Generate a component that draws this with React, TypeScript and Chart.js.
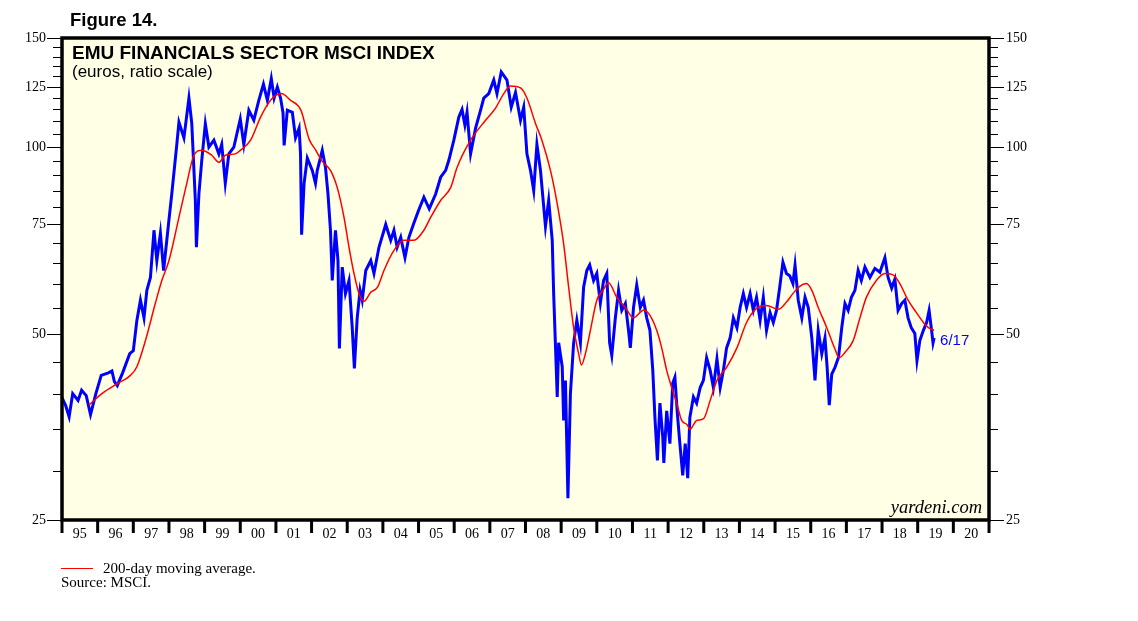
import React, { useEffect, useRef } from 'react';
import { Chart, registerables } from 'chart.js';

Chart.register(...registerables);

const SANS = '"Liberation Sans", Arial, sans-serif';
const SERIF = '"Liberation Serif", "Times New Roman", serif';
const BG = '#FFFFE6';
const BLUE = '#0000FF';
const RED = '#FF0000';

const figureTitle = 'Figure 14.';
const chartTitle = 'EMU FINANCIALS SECTOR MSCI INDEX';
const chartSubtitle = '(euros, ratio scale)';
const lastLabel = '6/17';
const legendText = '200-day moving average.';
const sourceText = 'Source: MSCI.';
const watermark = 'yardeni.com';

const xStart = 1995;
const xEnd = 2021;
const yearLabels = ['95','96','97','98','99','00','01','02','03','04','05','06','07','08','09','10','11','12','13','14','15','16','17','18','19','20'];
const yTickValues = [25, 30, 35, 40, 45, 50, 55, 60, 65, 70, 75, 80, 85, 90, 95, 100, 105, 110, 115, 120, 125, 130, 135, 140, 145, 150];
const yLabelValues = [25, 50, 75, 100, 125, 150];

// EMU Financials MSCI index (decimal year, value)
const indexDates = [
  1995.0, 1995.1, 1995.2, 1995.3, 1995.45, 1995.55, 1995.68, 1995.8, 1995.95, 1996.1, 1996.3, 1996.4, 1996.47, 1996.55, 1996.7, 1996.9,
  1997.0, 1997.1, 1997.2, 1997.3, 1997.38, 1997.48, 1997.58, 1997.66, 1997.76, 1997.85, 1997.99,
  1998.08, 1998.22, 1998.28, 1998.42, 1998.56, 1998.64, 1998.74, 1998.77, 1998.84, 1998.92,
  1999.02, 1999.12, 1999.26, 1999.4, 1999.48, 1999.58, 1999.68, 1999.82,
  2000.0, 2000.1, 2000.24, 2000.38, 2000.52, 2000.65, 2000.76, 2000.87, 2000.95,
  2001.04, 2001.13, 2001.2, 2001.23, 2001.32, 2001.46, 2001.55, 2001.65, 2001.69, 2001.72, 2001.79, 2001.88,
  2002.02, 2002.11, 2002.16, 2002.3, 2002.39, 2002.46, 2002.53, 2002.58, 2002.67, 2002.74, 2002.78, 2002.86, 2002.95,
  2003.05, 2003.14, 2003.2, 2003.28, 2003.36, 2003.42, 2003.52, 2003.66, 2003.75, 2003.89,
  2004.08, 2004.22, 2004.31, 2004.4, 2004.5, 2004.62, 2004.73, 2004.87,
  2005.0, 2005.15, 2005.3, 2005.48, 2005.62, 2005.76, 2005.85, 2005.99,
  2006.13, 2006.22, 2006.3, 2006.36, 2006.46, 2006.6, 2006.74, 2006.83, 2006.97,
  2007.11, 2007.2, 2007.32, 2007.48, 2007.6, 2007.72, 2007.86, 2007.95,
  2008.04, 2008.14, 2008.23, 2008.32, 2008.42, 2008.56, 2008.65, 2008.75, 2008.79, 2008.89, 2008.93,
  2009.03, 2009.07, 2009.12, 2009.19, 2009.26, 2009.35, 2009.44, 2009.54, 2009.63, 2009.72, 2009.8, 2009.91,
  2010.0, 2010.1, 2010.19, 2010.28, 2010.36, 2010.42, 2010.52, 2010.61, 2010.7, 2010.8, 2010.89, 2010.94,
  2011.03, 2011.12, 2011.22, 2011.31, 2011.4, 2011.49, 2011.57, 2011.63, 2011.7, 2011.77, 2011.85, 2011.88, 2011.96,
  2012.05, 2012.13, 2012.19, 2012.26, 2012.33, 2012.41, 2012.48, 2012.55, 2012.61, 2012.71, 2012.8, 2012.9, 2012.99,
  2013.08, 2013.18, 2013.27, 2013.37, 2013.46, 2013.55, 2013.64, 2013.74, 2013.83, 2013.93,
  2014.02, 2014.11, 2014.2, 2014.3, 2014.39, 2014.48, 2014.58, 2014.67, 2014.76, 2014.86, 2014.95,
  2015.04, 2015.13, 2015.22, 2015.32, 2015.41, 2015.5, 2015.56, 2015.65, 2015.75, 2015.84, 2015.93,
  2016.03, 2016.12, 2016.21, 2016.31, 2016.4, 2016.46, 2016.52, 2016.59, 2016.68, 2016.78, 2016.87, 2016.96,
  2017.05, 2017.14, 2017.24, 2017.33, 2017.42, 2017.52, 2017.66, 2017.8, 2017.94,
  2018.08, 2018.17, 2018.27, 2018.36, 2018.45, 2018.55, 2018.64, 2018.73, 2018.82, 2018.92, 2018.98,
  2019.06, 2019.16, 2019.25, 2019.32, 2019.39, 2019.43, 2019.46,
];
const indexValues = [
  39.4, 38.3, 36.7, 40, 39, 40.5, 39.7, 37, 40, 42.8, 43.2, 43.5, 41.8, 41.2, 43.2, 46.4,
  46.9, 52.5, 56.6, 53, 58.7, 61.6, 73.4, 65.6, 72.6, 63.2, 75.4,
  84.1, 101, 109.7, 103.5, 120, 109.2, 82, 68.9, 84, 95.2,
  109, 100, 102.6, 97.5, 101, 87.4, 97.5, 100,
  111, 101, 114.7, 110.5, 119, 126.4, 119, 129, 120,
  125, 120, 113.5, 100.6, 114.7, 113.8, 103.5, 107.3, 97.5, 72.2, 87.4, 96,
  91.7, 87.4, 91.7, 98.8, 92.7, 84, 73.4, 60.9, 73.4, 65.6, 47.3, 64, 58,
  60.9, 51.1, 43.9, 53, 58.7, 56.6, 63.2, 65.6, 62.5, 68.9,
  75, 70.7, 73.4, 68.9, 71.5, 66.3, 71.5, 75.4,
  79, 83, 79.5, 84, 89.4, 91.7, 95.2, 102.6,
  111.8, 115, 108.5, 113.8, 97.5, 107.3, 114.7, 120, 122,
  128.3, 122, 132.2, 128.3, 116, 122.5, 110.5, 116,
  97.5, 91.7, 85.1, 101, 91.7, 74.5, 82, 70.7, 58, 39.5, 48.3,
  44.2, 36.2, 42, 27.1, 40, 48.3, 52.5, 48.3, 59.4, 63.2, 64.5, 60.9,
  62.5, 56, 60.9, 62.5, 48.3, 46.1, 53, 58.7, 54.5, 55.9, 50.6, 47.4,
  55.1, 59.9, 55.1, 56.6, 53, 50.6, 43.6, 36.6, 31.2, 38.6, 34, 30.9, 37.5,
  33.2, 41.6, 42.5, 37.1, 33.2, 29.5, 33.2, 29.2, 36.6, 39.5, 38.6, 40.9, 42,
  45.7, 43.6, 40.9, 45.5, 40.9, 43.6, 47.4, 49.2, 53, 51.1,
  55.1, 58, 55.1, 58, 54.5, 57.2, 52.5, 57.2, 50.6, 54, 52.1,
  54.5, 59.4, 65.2, 62.5, 62, 60.2, 64.5, 56.6, 53, 57.2, 55.1,
  49.2, 42, 50.6, 46.4, 49.2, 44.1, 38.3, 43, 44.1, 45.8, 51.1, 55.9,
  54.5, 57.2, 58.7, 63.2, 60.9, 64, 61.6, 63.7, 62.8,
  66.3, 61.6, 59.2, 61.2, 54.5, 55.9, 56.6, 53, 51.1, 50, 45.2,
  48.7, 50.6, 52.1, 54.5, 50.6, 48.3, 49.2,
];

// 200-day moving average
const maDates = [
  1995.75, 1996.12, 1996.55, 1996.92, 1997.1, 1997.34, 1997.62, 1997.8, 1998.0, 1998.28, 1998.5, 1998.7, 1998.92,
  1999.2, 1999.4, 1999.58, 1999.86, 2000.0, 2000.29, 2000.57, 2000.85, 2001.15, 2001.41, 2001.7, 2001.93,
  2002.12, 2002.3, 2002.53, 2002.72, 2002.91, 2003.05, 2003.19, 2003.33, 2003.47, 2003.66, 2003.85,
  2004.03, 2004.31, 2004.59, 2004.87, 2005.15, 2005.34, 2005.62, 2005.9, 2006.08, 2006.46, 2006.88,
  2007.16, 2007.39, 2007.58, 2007.86, 2008.04, 2008.28, 2008.46, 2008.7, 2008.89, 2009.07, 2009.21,
  2009.35, 2009.49, 2009.57, 2009.68, 2009.82, 2010.0, 2010.17, 2010.33, 2010.56, 2010.8, 2011.03,
  2011.31, 2011.49, 2011.68, 2011.82, 2011.96, 2012.1, 2012.24, 2012.38, 2012.54, 2012.61, 2012.8, 2012.99,
  2013.18, 2013.37, 2013.64, 2013.93, 2014.2, 2014.48, 2014.76, 2015.09, 2015.32, 2015.5, 2015.69, 2015.88,
  2016.03, 2016.21, 2016.45, 2016.68, 2016.8, 2016.96, 2017.19, 2017.38, 2017.56, 2017.84, 2018.08,
  2018.31, 2018.5, 2018.73, 2018.96, 2019.16, 2019.3, 2019.46,
];
const maValues = [
  38.3, 40, 41.5, 42.8, 44.2, 48.7, 56, 60.9, 65.6, 77, 87.4, 97, 98.8,
  97, 94.5, 97, 97.5, 98.8, 102.6, 111.8, 119, 122, 119, 114.7, 103,
  98.8, 94.8, 91.7, 86, 77, 68.9, 62.5, 58, 56.4, 58.3, 59.4,
  63.2, 68.1, 70.7, 70.7, 73.4, 77, 82, 86, 92.7, 102.6, 110.5,
  115.6, 122, 125.5, 124.6, 120, 109.2, 102.6, 91.7, 81, 69.8, 59.4,
  51.1, 46.4, 44.5, 46.4, 50.6, 56.6, 58.7, 60.4, 57.2, 55.1, 53,
  54.5, 53.5, 50.6, 47.4, 43.6, 40.9, 38.6, 36.2, 35.6, 35, 36.2, 36.4,
  39, 42, 44.1, 47.4, 52.1, 54.9, 55.5, 54.7, 56.2, 58, 59.6, 60.2,
  58.7, 55.1, 51.1, 47.2, 45.7, 46.6, 48.7, 53, 57.2, 60.9, 62.5,
  62.2, 60.2, 56.6, 54.1, 52.1, 51.1, 50.6,
];

const decorPlugin = {
  id: 'decor',
  beforeDatasetsDraw(chart: any) {
    const { ctx, chartArea: a } = chart;
    ctx.save();
    ctx.fillStyle = BG;
    ctx.fillRect(a.left, a.top, a.right - a.left, a.bottom - a.top);
    ctx.restore();
  },
  afterDraw(chart: any) {
    const { ctx, chartArea: a, scales } = chart;
    const ys = scales.y;
    const xs = scales.x;
    ctx.save();

    // frame
    ctx.strokeStyle = '#000';
    ctx.lineWidth = 3.5;
    ctx.strokeRect(a.left, a.top, a.right - a.left, a.bottom - a.top);

    // y ticks both sides
    ctx.lineWidth = 1;
    ctx.font = `14px ${SERIF}`;
    ctx.fillStyle = '#000';
    ctx.textBaseline = 'middle';
    for (const v of yTickValues) {
      const y = Math.round(ys.getPixelForValue(v)) + 0.5;
      const major = yLabelValues.includes(v);
      const len = major ? 13 : 7;
      ctx.beginPath();
      ctx.moveTo(a.left - 2 - len, y);
      ctx.lineTo(a.left, y);
      ctx.moveTo(a.right, y);
      ctx.lineTo(a.right + 2 + len, y);
      ctx.stroke();
      if (major) {
        ctx.textAlign = 'right';
        ctx.fillText(String(v), a.left - 16, y);
        ctx.textAlign = 'left';
        ctx.fillText(String(v), a.right + 17, y);
      }
    }

    // x ticks and year labels
    ctx.lineWidth = 3;
    for (let i = 0; i <= xEnd - xStart; i++) {
      const x = xs.getPixelForValue(xStart + i);
      ctx.beginPath();
      ctx.moveTo(x, a.bottom);
      ctx.lineTo(x, a.bottom + 13);
      ctx.stroke();
    }
    ctx.textAlign = 'center';
    ctx.textBaseline = 'middle';
    yearLabels.forEach((lab, i) => {
      const x = xs.getPixelForValue(xStart + i + 0.5);
      ctx.fillText(lab, x, a.bottom + 14);
    });

    // titles
    ctx.textAlign = 'left';
    ctx.textBaseline = 'alphabetic';
    ctx.font = `bold 18.5px ${SANS}`;
    ctx.fillText(figureTitle, 70, 26);
    ctx.font = `bold 19px ${SANS}`;
    ctx.fillText(chartTitle, 72, 59);
    ctx.font = `17px ${SANS}`;
    ctx.fillText(chartSubtitle, 72, 77);

    // watermark
    ctx.font = `italic 18.5px ${SERIF}`;
    ctx.textAlign = 'right';
    ctx.fillText(watermark, a.right - 7, a.bottom - 7);

    // last value label
    const n = indexDates.length - 1;
    const lx = xs.getPixelForValue(indexDates[n]);
    const ly = ys.getPixelForValue(indexValues[n]);
    ctx.font = `15px ${SANS}`;
    ctx.fillStyle = BLUE;
    ctx.textAlign = 'left';
    ctx.textBaseline = 'middle';
    ctx.fillText(lastLabel, lx + 6, ly + 3);

    // legend / source
    ctx.strokeStyle = RED;
    ctx.lineWidth = 1;
    ctx.beginPath();
    ctx.moveTo(61, 568.5);
    ctx.lineTo(93, 568.5);
    ctx.stroke();
    ctx.fillStyle = '#000';
    ctx.font = `15px ${SERIF}`;
    ctx.textBaseline = 'alphabetic';
    ctx.fillText(legendText, 103, 573);
    ctx.fillText(sourceText, 61, 587);

    ctx.restore();
  },
};

export default function App() {
  const canvasRef = useRef<HTMLCanvasElement | null>(null);

  useEffect(() => {
    const canvas = canvasRef.current;
    if (!canvas) return;
    const chart = new Chart(canvas, {
      type: 'line',
      data: {
        datasets: [
          {
            label: '200-day moving average',
            data: maDates.map((d, i) => ({ x: d, y: maValues[i] })),
            borderColor: RED,
            borderWidth: 1.5,
            pointRadius: 0,
            cubicInterpolationMode: 'monotone',
            fill: false,
          },
          {
            label: 'EMU Financials',
            data: indexDates.map((d, i) => ({ x: d, y: indexValues[i] })),
            borderColor: BLUE,
            borderWidth: 3,
            pointRadius: 0,
            tension: 0,
            fill: false,
          },
        ],
      },
      options: {
        animation: false,
        responsive: false,
        maintainAspectRatio: false,
        devicePixelRatio: 1,
        layout: { padding: { left: 62, right: 149, top: 38, bottom: 101 } },
        plugins: {
          legend: { display: false },
          tooltip: { enabled: false },
          title: { display: false },
        },
        scales: {
          x: { type: 'linear', min: xStart, max: xEnd, display: false },
          y: { type: 'logarithmic', min: 25, max: 150, display: false },
        },
      } as any,
      plugins: [decorPlugin],
    });
    return () => chart.destroy();
  }, []);

  return (
    <div style={{ position: 'absolute', left: 0, top: 0, width: 1138, height: 621, background: '#fff' }}>
      <canvas ref={canvasRef} width={1138} height={621} style={{ display: 'block', width: 1138, height: 621 }} />
    </div>
  );
}
